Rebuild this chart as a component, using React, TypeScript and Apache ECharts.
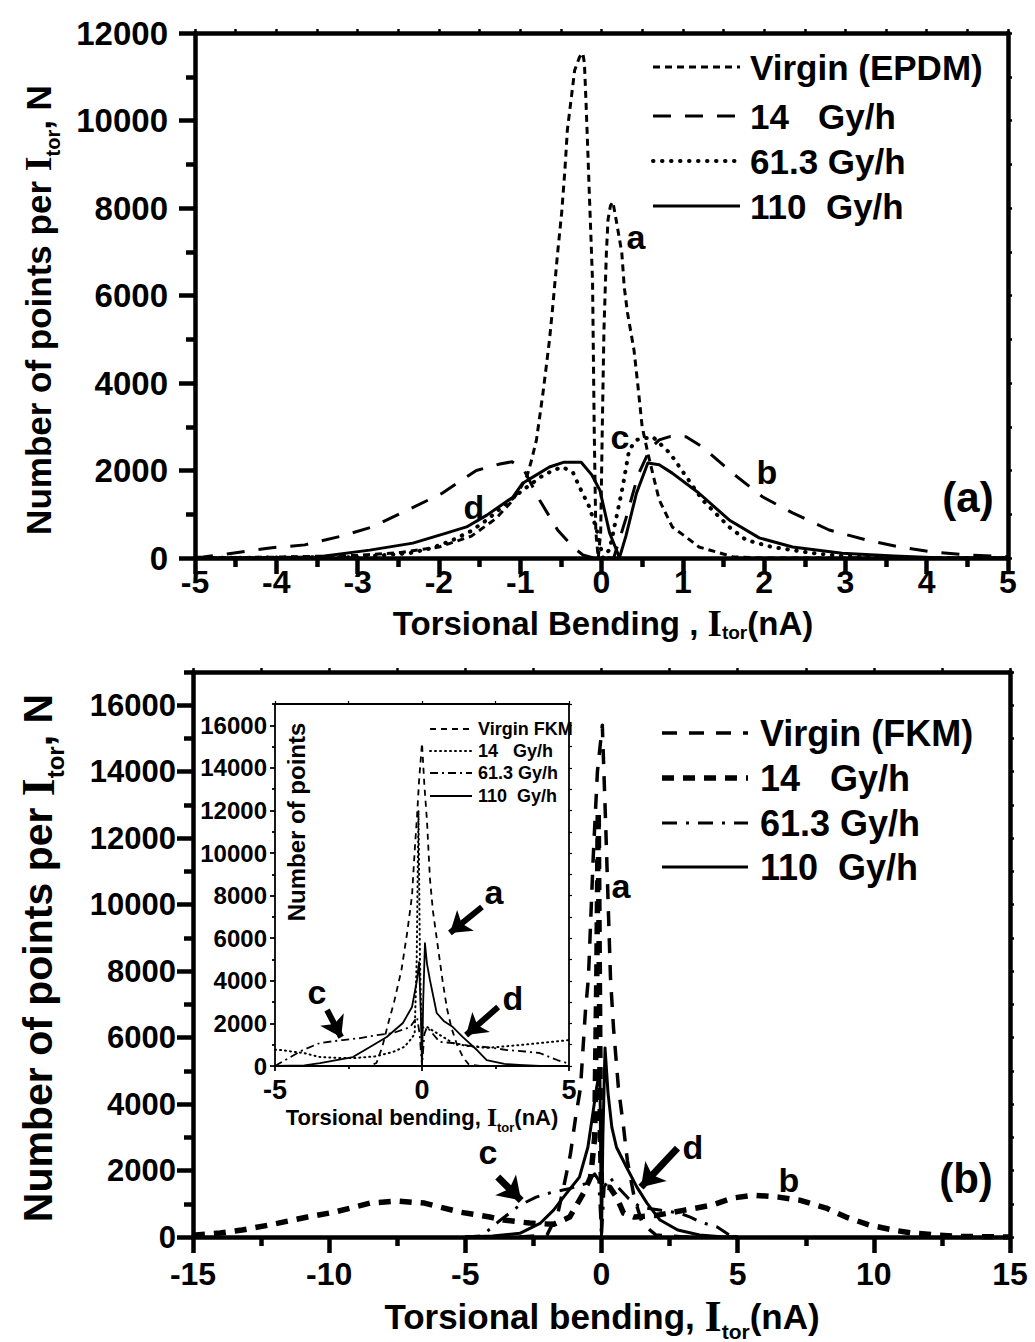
import React, { useEffect, useRef } from 'react';
import * as echarts from 'echarts';

// ---------- Panel (a): EPDM ----------
const virginEPDM = [[-5,0],[-4,20],[-3,60],[-2.5,120],[-2,250],[-1.6,500],[-1.3,900],[-1.1,1300],[-0.98,1650],[-0.92,1850],[-0.86,2240],[-0.8,2700],[-0.76,3230],[-0.72,3770],[-0.68,4370],[-0.64,4980],[-0.6,5740],[-0.54,6970],[-0.49,7890],[-0.45,8870],[-0.42,9780],[-0.37,10540],[-0.33,11150],[-0.27,11450],[-0.23,11540],[-0.21,11310],[-0.19,10400],[-0.17,9390],[-0.15,8340],[-0.13,7340],[-0.11,6300],[-0.09,3000],[-0.07,600],[-0.04,0],[-0.01,600],[0.01,3000],[0.03,5200],[0.06,6970],[0.08,7730],[0.11,8050],[0.14,8140],[0.18,7730],[0.22,7300],[0.25,6970],[0.28,6190],[0.32,5600],[0.4,4750],[0.45,3900],[0.5,3000],[0.57,2400],[0.65,1780],[0.71,1330],[0.87,710],[1.04,480],[1.2,250],[1.41,140],[1.61,30],[2,0],[5,0]];
const gy14EPDM = [[-5,20],[-4.9,25],[-4.54,110],[-4.08,230],[-3.65,300],[-3.22,490],[-2.82,710],[-2.38,1100],[-1.96,1480],[-1.54,2000],[-1.25,2150],[-1.1,2200],[-0.95,2000],[-0.76,1320],[-0.54,640],[-0.35,250],[-0.23,70],[-0.1,0],[0.15,0],[0.3,900],[0.45,1900],[0.6,2500],[0.71,2700],[0.85,2780],[1.04,2770],[1.24,2540],[1.61,1940],[1.98,1400],[2.35,1030],[2.8,640],[3.26,410],[3.67,250],[4.07,140],[4.52,70],[5,30]];
const gy61EPDM = [[-5,0],[-3,20],[-2.36,110],[-2.1,220],[-1.83,410],[-1.6,620],[-1.41,870],[-1.2,1200],[-0.97,1550],[-0.75,1850],[-0.6,2000],[-0.48,2080],[-0.35,1950],[-0.27,1620],[-0.15,1170],[-0.06,650],[0.02,0],[0.1,200],[0.18,900],[0.26,1620],[0.34,2470],[0.43,2700],[0.63,2770],[0.84,2400],[0.96,2080],[1.24,1330],[1.57,710],[1.78,410],[2.1,250],[2.6,110],[3,40],[3.5,0],[5,0]];
const gy110EPDM = [[-5,0],[-4.5,0],[-3.5,25],[-2.85,180],[-2.32,340],[-1.91,570],[-1.66,710],[-1.41,980],[-1.09,1390],[-0.97,1710],[-0.8,1900],[-0.64,2080],[-0.46,2190],[-0.25,2190],[-0.12,1900],[-0.02,1550],[0.1,570],[0.2,110],[0.22,0],[0.3,500],[0.43,1480],[0.57,2170],[0.71,2130],[0.87,1940],[1.2,1480],[1.57,870],[1.94,460],[2.35,250],[2.96,110],[3.6,45],[4.2,0],[5,0]];

// ---------- Panel (b): FKM ----------
const virginFKM = [[-5,0],[-3,0],[-2,60],[-1.6,720],[-1.39,1500],[-1.14,2500],[-0.95,3600],[-0.77,4500],[-0.59,6800],[-0.48,7800],[-0.3,11500],[-0.15,14000],[0.03,15400],[0.15,12500],[0.33,7800],[0.44,6300],[0.62,4500],[0.81,3300],[0.95,2300],[1.2,1200],[1.5,400],[2,60],[3,0],[5,0]];
const gy14FKM = [[-15,40],[-14.9,60],[-14,120],[-13.2,210],[-12.2,360],[-10.8,600],[-9.8,750],[-8.5,1020],[-7.5,1080],[-6.5,1020],[-5.2,750],[-4.1,600],[-3.6,510],[-2.64,420],[-1.76,380],[-1.17,600],[-0.66,1320],[-0.4,1800],[-0.25,3000],[-0.17,8000],[-0.12,12800],[-0.08,8000],[-0.04,3000],[0,1500],[0.3,1500],[0.55,1200],[0.81,720],[1.2,600],[2,650],[3,800],[4.07,960],[4.8,1170],[5.57,1260],[6.5,1200],[7.27,1110],[8.25,870],[8.98,600],[9.83,360],[10.7,210],[11.4,120],[12.3,60],[13,20],[15,0]];
const gy61FKM = [[-5,0],[-4.4,30],[-3.8,450],[-3,960],[-2.4,1200],[-1.8,1350],[-1.2,1450],[-0.6,1600],[-0.25,1900],[-0.1,1700],[0,0],[0.1,1500],[0.3,1800],[0.6,1500],[1,1150],[1.43,900],[2.13,810],[2.86,720],[3.26,600],[3.63,450],[4.25,300],[4.8,0],[5,0]];
const gy110FKM = [[-5,0],[-4,30],[-3,110],[-2.24,420],[-1.76,810],[-1.28,1320],[-0.81,1800],[-0.5,2700],[-0.32,3700],[-0.18,4500],[-0.06,5000],[0,0],[0.05,3000],[0.13,5690],[0.24,4330],[0.38,3300],[0.55,2700],[0.92,2100],[1.3,1500],[1.67,1020],[2.15,510],[2.8,210],[3.6,60],[4.5,0],[5,0]];

// ---------- Inset (FKM, -5..5) ----------
const virginInset = [[-5,0],[-1.8,0],[-1.55,140],[-1.35,900],[-1.15,2000],[-0.95,3000],[-0.7,4500],[-0.5,6300],[-0.34,8000],[-0.24,10300],[-0.17,11700],[-0.1,13400],[0,15160],[0.08,13200],[0.17,11500],[0.27,8800],[0.37,7300],[0.52,5800],[0.7,4000],[0.85,2700],[1,1800],[1.19,1000],[1.4,400],[1.6,60],[2,0],[5,0]];
const gy14Inset = [[-5,760],[-4.8,750],[-4,600],[-3.47,420],[-2.8,380],[-2.35,370],[-1.6,450],[-1,650],[-0.6,900],[-0.4,1220],[-0.25,1500],[-0.18,5000],[-0.12,12000],[-0.07,5000],[-0.02,1800],[0.17,1830],[0.5,1550],[1.05,1080],[1.5,950],[2.2,850],[3.3,980],[4.4,1130],[5,1220]];
const gy61Inset = [[-5,0],[-4.83,140],[-4.05,750],[-3.47,1080],[-2.7,1220],[-2.1,1310],[-1.55,1450],[-0.98,1550],[-0.4,1830],[-0.17,2300],[-0.08,1500],[0,0],[0.08,1500],[0.17,1830],[0.6,1130],[1.05,1080],[1.6,950],[2.2,890],[2.9,750],[3.5,680],[4,610],[4.6,280],[4.93,140],[5,100]];
const gy110Inset = [[-5,0],[-4,30],[-3.47,140],[-2.35,420],[-1.77,890],[-1.2,1360],[-0.65,2020],[-0.34,2770],[-0.17,4040],[-0.1,4880],[-0.04,2500],[0,0],[0.04,3000],[0.1,5770],[0.17,4800],[0.27,4040],[0.5,2490],[0.75,2100],[1.05,1830],[1.39,1360],[1.87,750],[2.2,280],[2.8,100],[3.3,50],[4,0],[5,0]];

// ---------- Ticks ----------
const aXTicks = [-5,-4,-3,-2,-1,0,1,2,3,4,5];
const aXMinor = [-4.5,-3.5,-2.5,-1.5,-0.5,0.5,1.5,2.5,3.5,4.5];
const aYTicks = [0,2000,4000,6000,8000,10000,12000];
const aYMinor = [1000,3000,5000,7000,9000,11000];
const bXTicks = [-15,-10,-5,0,5,10,15];
const bXMinor = [-12.5,-7.5,-2.5,2.5,7.5,12.5];
const bYTicks = [0,2000,4000,6000,8000,10000,12000,14000,16000];
const bYMinor = [1000,3000,5000,7000,9000,11000,13000,15000,17000];
const iXTicks = [-5,0,5];
const iXMinor = [-2.5,2.5];
const iYTicks = bYTicks;
const iYMinor = bYMinor;

// Annotation arrows (data coordinates)
const arrowC_B = [[-3.81,1805],[-2.95,1100]];
const arrowD_B = [[2.79,2677],[1.45,1500]];
const arrowA_I = [[2.04,7465],[0.95,6250]];
const arrowC_I = [[-3.23,2630],[-2.75,1350]];
const arrowD_I = [[2.59,2770],[1.5,1450]];

const legendA = ['Virgin (EPDM)', '14   Gy/h', '61.3 Gy/h', '110  Gy/h'];
const legendB = ['Virgin (FKM)', '14   Gy/h', '61.3 Gy/h', '110  Gy/h'];
const legendI = ['Virgin FKM', '14   Gy/h', '61.3 Gy/h', '110  Gy/h'];

const FONT = '"Liberation Sans", Arial, Helvetica, sans-serif';
const SERIF = '"Liberation Serif", "Times New Roman", serif';

const stylesA = [
  { width: 3, type: [7, 5] },
  { width: 3, type: [18, 14] },
  { width: 4, type: [0.5, 8.5], cap: 'round' },
  { width: 3, type: 'solid' },
];
const stylesB = [
  { width: 3.5, type: [15, 12] },
  { width: 5.5, type: [12, 9] },
  { width: 3, type: [15, 9, 3, 9] },
  { width: 3, type: 'solid' },
];
const stylesI = [
  { width: 1.8, type: [6, 5] },
  { width: 2, type: [1, 4], cap: 'round' },
  { width: 1.8, type: [8, 4, 2, 4] },
  { width: 1.8, type: 'solid' },
];

const plain = (v: number) => String(v);

function xAxesFor(gi: number, min: number, max: number, major: number[], minor: number[], o: any) {
  return [
    {
      type: 'value', gridIndex: gi, min, max, position: 'bottom',
      axisLine: { show: true, onZero: false, lineStyle: { color: '#000', width: o.lw } },
      axisTick: { show: true, customValues: major, length: o.tick, inside: false, lineStyle: { color: '#000', width: o.lw } },
      axisLabel: { show: true, customValues: major, formatter: plain, margin: o.margin, color: '#000', fontSize: o.fs, fontWeight: 'bold', fontFamily: FONT },
      splitLine: { show: false },
    },
    {
      type: 'value', gridIndex: gi, min, max, position: 'bottom',
      axisLine: { show: false, onZero: false },
      axisTick: { show: true, customValues: minor, length: o.minorTick, lineStyle: { color: '#000', width: o.lw } },
      axisLabel: { show: false }, splitLine: { show: false },
    },
    {
      type: 'value', gridIndex: gi, min, max, position: 'top',
      axisLine: { show: true, onZero: false, lineStyle: { color: '#000', width: o.lw } },
      axisTick: { show: true, customValues: major.concat(minor), length: o.frameTick, lineStyle: { color: '#000', width: o.frameW } },
      axisLabel: { show: false }, splitLine: { show: false },
    },
  ];
}
function yAxesFor(gi: number, min: number, max: number, major: number[], minor: number[], o: any) {
  return [
    {
      type: 'value', gridIndex: gi, min, max, position: 'left',
      axisLine: { show: true, onZero: false, lineStyle: { color: '#000', width: o.lw } },
      axisTick: { show: true, customValues: major, length: o.tick, lineStyle: { color: '#000', width: o.lw } },
      axisLabel: { show: true, customValues: major, formatter: plain, margin: o.margin, color: '#000', fontSize: o.fs, fontWeight: 'bold', fontFamily: FONT },
      splitLine: { show: false },
    },
    {
      type: 'value', gridIndex: gi, min, max, position: 'left',
      axisLine: { show: false, onZero: false },
      axisTick: { show: true, customValues: minor, length: o.minorTick, lineStyle: { color: '#000', width: o.lw } },
      axisLabel: { show: false }, splitLine: { show: false },
    },
    {
      type: 'value', gridIndex: gi, min, max, position: 'right',
      axisLine: { show: true, onZero: false, lineStyle: { color: '#000', width: o.lw } },
      axisTick: { show: true, customValues: major.concat(minor), length: o.frameTick, lineStyle: { color: '#000', width: o.frameW } },
      axisLabel: { show: false }, splitLine: { show: false },
    },
  ];
}

function line(name: string, data: number[][], axis: number, st: any, extra: any = {}) {
  return {
    type: 'line', name, data, xAxisIndex: axis, yAxisIndex: axis,
    showSymbol: false, symbol: 'none', silent: true, z: 3,
    lineStyle: { color: '#000', width: st.width, type: st.type, cap: st.cap || 'butt', join: 'round' },
    ...extra,
  };
}

function arrows(list: number[][][], width: number, size: number) {
  return {
    silent: true, symbol: ['none', 'arrow'], symbolSize: size,
    label: { show: false }, emphasis: { disabled: true },
    lineStyle: { color: '#000', width, type: 'solid' },
    itemStyle: { color: '#000' },
    data: list.map((a) => [{ coord: a[0] }, { coord: a[1] }]),
  };
}

function txt(text: string, x: number, y: number, fs: number, extra: any = {}) {
  return {
    type: 'text', x, y, z: 50, silent: true,
    style: { text, fill: '#000', fontSize: fs, fontWeight: 'bold', fontFamily: FONT, align: 'center', verticalAlign: 'middle', ...extra },
  };
}

function richName(main1: string, main2: string, fs: number, ifs: number, sfs: number, lh: number) {
  return {
    text: `{n|${main1}}{i|I}{s|tor}{n|${main2}}`,
    rich: {
      n: { fontSize: fs, fontWeight: 'bold', fontFamily: FONT, fill: '#000', lineHeight: lh, verticalAlign: 'middle' },
      i: { fontSize: ifs, fontWeight: 'bold', fontFamily: SERIF, fill: '#000', lineHeight: lh, verticalAlign: 'middle' },
      s: { fontSize: sfs, fontWeight: 'bold', fontFamily: FONT, fill: '#000', lineHeight: lh, verticalAlign: 'bottom' },
    },
  };
}

function nameText(x: number, y: number, rot: number, main1: string, main2: string, fs: number, ifs: number, sfs: number, lh: number) {
  return {
    type: 'text', x, y, rotation: rot, z: 50, silent: true,
    style: { ...richName(main1, main2, fs, ifs, sfs, lh), align: 'center', verticalAlign: 'middle' },
  };
}

function legendGraphics(labels: string[], styles: any[], ys: number[], x1: number, x2: number, tx: number, fs: number) {
  const out: any[] = [];
  labels.forEach((lab, i) => {
    const st = styles[i];
    out.push({
      type: 'line', z: 50, silent: true,
      shape: { x1, y1: ys[i], x2, y2: ys[i] },
      style: { stroke: '#000', lineWidth: st.width, lineDash: st.type === 'solid' ? null : st.type, lineCap: st.cap || 'butt' },
    });
    out.push({
      type: 'text', x: tx, y: ys[i], z: 50, silent: true,
      style: { text: lab, fill: '#000', fontSize: fs, fontWeight: 'bold', fontFamily: FONT, align: 'left', verticalAlign: 'middle' },
    });
  });
  return out;
}

export default function App() {
  const ref = useRef<HTMLDivElement>(null);
  useEffect(() => {
    const chart = echarts.init(ref.current!, null, { renderer: 'svg' });
    const mainO = { lw: 4.5, tick: 16, minorTick: 9, frameTick: 4, frameW: 2.5 };
    const insetName = {
      type: 'text', x: 296, y: 822, rotation: Math.PI / 2, z: 50, silent: true,
      style: { text: 'Number of points', fill: '#000', fontSize: 24, fontWeight: 'bold', fontFamily: FONT, align: 'center', verticalAlign: 'middle' },
    };
    const option: any = {
      animation: false,
      backgroundColor: '#fff',
      grid: [
        { left: 195, top: 33, width: 813, height: 525 },
        { left: 193, top: 672, width: 817, height: 565 },
        { left: 275, top: 704, width: 294, height: 362 },
      ],
      xAxis: [
        ...xAxesFor(0, -5, 5, aXTicks, aXMinor, { ...mainO, fs: 32, margin: 8 }),
        ...xAxesFor(1, -15, 15, bXTicks, bXMinor, { ...mainO, fs: 32, margin: 21 }),
        ...xAxesFor(2, -5, 5, iXTicks, iXMinor, { lw: 1.8, tick: 5, minorTick: 3, frameTick: 3, frameW: 1.2, fs: 27, margin: 10 }),
      ],
      yAxis: [
        ...yAxesFor(0, 0, 12000, aYTicks, aYMinor, { ...mainO, fs: 33, margin: 27 }),
        ...yAxesFor(1, 0, 17000, bYTicks, bYMinor, { ...mainO, fs: 31, margin: 17 }),
        ...yAxesFor(2, 0, 17000, iYTicks, iYMinor, { lw: 1.8, tick: 5, minorTick: 3, frameTick: 3, frameW: 1.2, fs: 24, margin: 8 }),
      ],
      series: [
        line(legendA[0], virginEPDM, 0, stylesA[0]),
        line(legendA[1], gy14EPDM, 0, stylesA[1]),
        line(legendA[2], gy61EPDM, 0, stylesA[2]),
        line(legendA[3], gy110EPDM, 0, stylesA[3]),
        line(legendB[0], virginFKM, 3, stylesB[0]),
        line(legendB[1], gy14FKM, 3, stylesB[1]),
        line(legendB[2], gy61FKM, 3, stylesB[2]),
        line(legendB[3], gy110FKM, 3, stylesB[3], { markLine: arrows([arrowC_B, arrowD_B], 7, 22) }),
        line(legendI[0], virginInset, 6, stylesI[0]),
        line(legendI[1], gy14Inset, 6, stylesI[1]),
        line(legendI[2], gy61Inset, 6, stylesI[2]),
        line(legendI[3], gy110Inset, 6, stylesI[3], { markLine: arrows([arrowA_I, arrowC_I, arrowD_I], 6, 20) }),
      ],
      graphic: [
        ...legendGraphics(legendA, stylesA, [67, 116, 161, 206], 653, 740, 750, 35),
        ...legendGraphics(legendB, stylesB, [733, 778, 823, 867], 662, 748, 760, 36),
        ...legendGraphics(legendI, stylesI, [729, 751, 773, 796], 430, 472, 478, 18),
        txt('a', 636, 237, 34), txt('b', 767, 472, 34), txt('c', 620, 437, 34), txt('d', 474, 507, 34),
        txt('(a)', 968, 497, 42),
        txt('a', 621, 886, 34), txt('b', 789, 1180, 34), txt('c', 488, 1152, 34), txt('d', 693, 1147, 34),
        txt('(b)', 966, 1178, 42),
        txt('a', 494, 892, 34), txt('c', 317, 992, 34), txt('d', 513, 998, 34),
        nameText(38, 310, Math.PI / 2, 'Number of points per ', ', N', 35, 38, 20, 50),
        nameText(603, 623, 0, 'Torsional Bending , ', '(nA)', 33, 37, 19, 38),
        nameText(38, 958, Math.PI / 2, 'Number of points per ', ', N', 41, 46, 24, 58),
        nameText(602, 1316, 0, 'Torsional bending, ', '(nA)', 35, 44, 21, 52),
        nameText(422, 1117, 0, 'Torsional bending, ', '(nA)', 22, 26, 13, 34),
        insetName,
      ],
    };
    chart.setOption(option);
    return () => chart.dispose();
  }, []);
  return <div ref={ref} style={{ position: 'absolute', left: 0, top: 0, width: 1035, height: 1342, background: '#fff' }} />;
}
